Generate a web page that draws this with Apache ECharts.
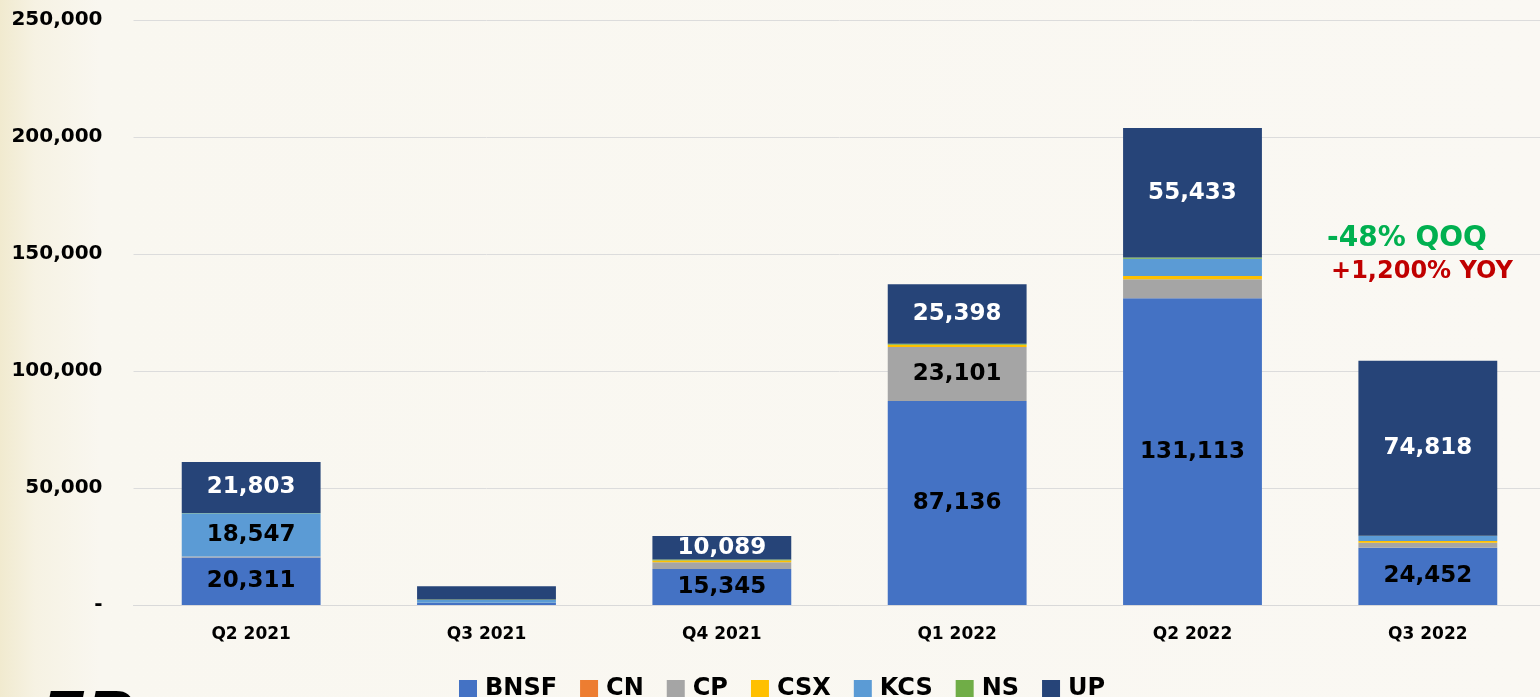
<!DOCTYPE html>
<html>
<head>
<meta charset="utf-8">
<script src="https://cdn.jsdelivr.net/npm/echarts@6/dist/echarts.min.js"></script>
<style>
  html, body { margin: 0; padding: 0; }
  body {
    width: 1540px; height: 697px; overflow: hidden;
    background: linear-gradient(90deg, #f1eacf 0px, #f6f2e3 35px, #f9f7f0 100px, #faf8f3 100%);
  }
  /* 画布略宽于窗口, 使最右侧柱子与原图对齐 */
  #chart { width: 1560px; height: 697px; }
</style>
</head>
<body>
<div id="chart"></div>
<script>
// 季度
var quarters = ['Q2 2021', 'Q3 2021', 'Q4 2021', 'Q1 2022', 'Q2 2022', 'Q3 2022'];

// 各铁路公司数值 (由下至上堆叠)
var bnsf = [20311, 900, 15345, 87136, 131113, 24452];
var cn   = [0, 0, 0, 0, 0, 0];
var cp   = [400, 100, 2900, 23101, 8100, 2100];
var csx  = [0, 0, 800, 1000, 1400, 850];
var kcs  = [18547, 1100, 0, 0, 7400, 2100];
var ns   = [50, 300, 350, 450, 450, 100];
var up   = [21803, 5600, 10089, 25398, 55433, 74818];

var COLORS = {
  BNSF: '#4472c4', CN: '#ed7d31', CP: '#a5a5a5', CSX: '#ffc000',
  KCS: '#5b9bd5', NS: '#70ad47', UP: '#264478'
};

var chart = echarts.init(document.getElementById('chart'));

function fmt(v) { return v.toLocaleString('en-US'); }

function mkSeries(name, data, labelColor) {
  return {
    name: name,
    type: 'bar',
    stack: 'total',
    data: data,
    barWidth: '59%',
    itemStyle: { color: COLORS[name] },
    label: {
      show: true,
      position: 'inside',
      color: labelColor,
      fontFamily: 'DejaVu Sans',
      fontWeight: 'bold',
      fontSize: 23,
      // 只标注 >= 10,000 的分段
      formatter: function (p) { return p.value >= 10000 ? fmt(p.value) : ''; }
    }
  };
}

var option = {
  animation: false,
  backgroundColor: 'transparent',
  grid: { left: 133.5, top: 20, width: 1412, bottom: 92, containLabel: false },
  legend: {
    data: ['BNSF', 'CN', 'CP', 'CSX', 'KCS', 'NS', 'UP'],
    left: 459,
    top: 677,
    padding: 0,
    icon: 'rect',
    itemWidth: 18,
    itemHeight: 18,
    itemGap: 23,
    textStyle: {
      fontFamily: 'DejaVu Sans',
      fontWeight: 'bold',
      fontSize: 24,
      color: '#000',
      padding: [0, 0, 0, 3]
    }
  },
  xAxis: {
    type: 'category',
    data: quarters,
    axisLine: { lineStyle: { color: '#d9d9d9', width: 1 } },
    axisTick: { show: false },
    axisLabel: {
      color: '#000',
      fontFamily: 'DejaVu Sans',
      fontWeight: 'bold',
      fontSize: 17,
      margin: 21
    }
  },
  yAxis: {
    type: 'value',
    min: 0,
    max: 250000,
    interval: 50000,
    axisLine: { show: false },
    axisTick: { show: false },
    splitLine: { lineStyle: { color: '#dcdcdc', width: 1 } },
    axisLabel: {
      color: '#000',
      fontFamily: 'DejaVu Sans',
      fontWeight: 'bold',
      fontSize: 20,
      margin: 31,
      formatter: function (v) { return v === 0 ? '-' : fmt(v); }
    }
  },
  graphic: [
    {
      type: 'text', x: 1407, y: 239,
      style: { text: '-48% QOQ', fill: '#00b050', font: 'bold 28px "DejaVu Sans"', align: 'center', verticalAlign: 'middle' }
    },
    {
      type: 'text', x: 1422, y: 272,
      style: { text: '+1,200% YOY', fill: '#c00000', font: 'bold 24px "DejaVu Sans"', align: 'center', verticalAlign: 'middle' }
    },
    {
      type: 'text', left: 40, top: 689,
      style: { text: 'FP', fill: '#000', font: 'italic 900 66px "DejaVu Sans"' }
    }
  ],
  series: [
    mkSeries('BNSF', bnsf, '#000'),
    mkSeries('CN', cn, '#000'),
    mkSeries('CP', cp, '#000'),
    mkSeries('CSX', csx, '#000'),
    mkSeries('KCS', kcs, '#000'),
    mkSeries('NS', ns, '#000'),
    mkSeries('UP', up, '#fff')
  ]
};

chart.setOption(option);
</script>
</body>
</html>
